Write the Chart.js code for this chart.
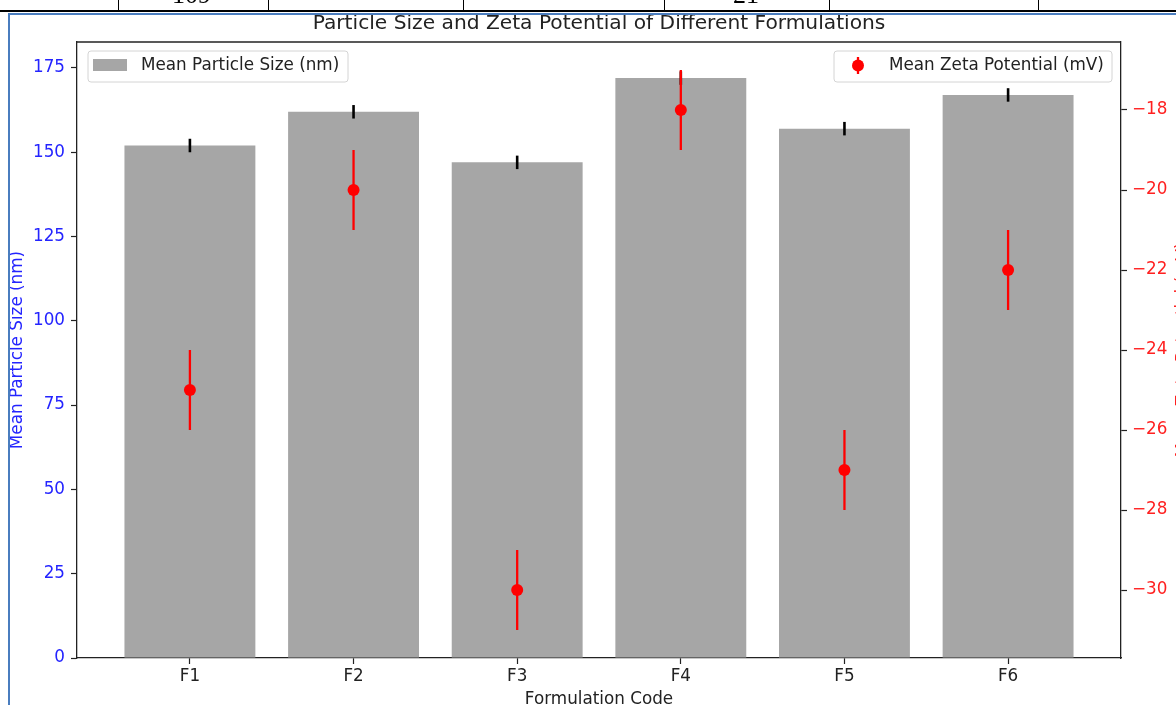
<!DOCTYPE html>
<html>
<head>
<meta charset="utf-8">
<script src="https://cdn.jsdelivr.net/npm/chart.js@4.4.0/dist/chart.umd.min.js"></script>
<style>
  body { margin: 0; background: #fff; width: 1176px; height: 705px; overflow: hidden; position: relative; }
  #chart { position: absolute; left: 0; top: 0; }
  .line { position: absolute; background: #000; z-index: 2; }
  .blue { position: absolute; background: #4a7dbf; z-index: 2; }
  .cut { position: absolute; z-index: 2; font-family: "Liberation Serif", serif; font-size: 26px; line-height: 26px; top: -18px; color: #000; }
</style>
</head>
<body>
<!-- bits of the document table above the figure -->
<div class="line" style="left:0;top:10px;width:1176px;height:2px"></div>
<div class="line" style="left:118px;top:0;width:1px;height:10px"></div>
<div class="line" style="left:268px;top:0;width:1px;height:10px"></div>
<div class="line" style="left:463px;top:0;width:1px;height:10px"></div>
<div class="line" style="left:664px;top:0;width:1px;height:10px"></div>
<div class="line" style="left:829px;top:0;width:1px;height:10px"></div>
<div class="line" style="left:1038px;top:0;width:1px;height:10px"></div>
<div class="cut" style="left:172px">109</div>
<div class="cut" style="left:733px">21</div>
<div class="blue" style="left:8px;top:13px;width:1168px;height:2px"></div>
<div class="blue" style="left:8px;top:13px;width:2px;height:692px"></div>

<canvas id="chart" width="1176" height="705"></canvas>

<script>
var formulations = ['F1', 'F2', 'F3', 'F4', 'F5', 'F6'];
var particleSize = [152, 162, 147, 172, 157, 167];
var particleErr = [2, 2, 2, 2, 2, 2];
var zetaPotential = [-25, -20, -30, -18, -27, -22];
var zetaErr = [1, 1, 1, 1, 1, 1];
var sizeTicks = [0, 25, 50, 75, 100, 125, 150, 175];
var zetaTicks = [-30, -28, -26, -24, -22, -20, -18];

var FONT = '"DejaVu Sans", sans-serif';
var BLUE = '#2424ff';
var RED = '#ff2020';
var DARK = '#222';
var LABEL = '16.8px ' + FONT;

function drawErr(chart, values, errs, axisId, color, width) {
    var ctx = chart.ctx;
    var xs = chart.scales.x, ys = chart.scales[axisId];
    ctx.save();
    ctx.strokeStyle = color;
    ctx.lineWidth = width;
    for (var i = 0; i < values.length; i++) {
        var px = xs.getPixelForValue(i);
        ctx.beginPath();
        ctx.moveTo(px, ys.getPixelForValue(values[i] - errs[i]));
        ctx.lineTo(px, ys.getPixelForValue(values[i] + errs[i]));
        ctx.stroke();
    }
    ctx.restore();
}

function legendBox(ctx, x, y, w, h) {
    ctx.beginPath();
    ctx.roundRect(x, y, w, h, 3);
    ctx.fillStyle = 'rgba(255,255,255,0.8)';
    ctx.fill();
    ctx.strokeStyle = '#d4d4d4';
    ctx.lineWidth = 1;
    ctx.stroke();
}

var extras = {
    id: 'extras',
    beforeDatasetDraw: function (chart, args) {
        if (args.index === 0) drawErr(chart, zetaPotential, zetaErr, 'y2', 'red', 2.3);
    },
    afterDatasetDraw: function (chart, args) {
        if (args.index === 1) drawErr(chart, particleSize, particleErr, 'y', '#000', 2.6);
    },
    afterDraw: function (chart) {
        var ctx = chart.ctx, a = chart.chartArea;
        ctx.save();
        // top spine
        ctx.strokeStyle = DARK;
        ctx.lineWidth = 1.3;
        ctx.beginPath();
        ctx.moveTo(a.left, a.top);
        ctx.lineTo(a.right, a.top);
        ctx.stroke();

        // title
        ctx.fillStyle = DARK;
        ctx.font = '20.2px ' + FONT;
        ctx.textAlign = 'center';
        ctx.textBaseline = 'middle';
        ctx.fillText('Particle Size and Zeta Potential of Different Formulations', (a.left + a.right) / 2, 24);

        // x title
        ctx.font = LABEL;
        ctx.fillText('Formulation Code', (a.left + a.right) / 2, 700);

        // y titles
        ctx.save();
        ctx.translate(18, (a.top + a.bottom) / 2);
        ctx.rotate(-Math.PI / 2);
        ctx.fillStyle = BLUE;
        ctx.fillText('Mean Particle Size (nm)', 0, 0);
        ctx.restore();

        ctx.save();
        ctx.translate(1188, (a.top + a.bottom) / 2);
        ctx.rotate(-Math.PI / 2);
        ctx.fillStyle = RED;
        ctx.textBaseline = 'alphabetic';
        ctx.fillText('Mean Zeta Potential (mV)', 0, 0);
        ctx.restore();

        // legends
        legendBox(ctx, 88, 51, 260, 31);
        ctx.fillStyle = '#a6a6a6';
        ctx.fillRect(93, 59, 34, 12);
        ctx.fillStyle = DARK;
        ctx.textAlign = 'left';
        ctx.fillText('Mean Particle Size (nm)', 141, 66);

        legendBox(ctx, 834, 51, 278, 31);
        ctx.strokeStyle = 'red';
        ctx.lineWidth = 2.3;
        ctx.beginPath();
        ctx.moveTo(858, 57);
        ctx.lineTo(858, 74);
        ctx.stroke();
        ctx.fillStyle = 'red';
        ctx.beginPath();
        ctx.arc(858, 65.5, 6, 0, Math.PI * 2);
        ctx.fill();
        ctx.fillStyle = DARK;
        ctx.fillText('Mean Zeta Potential (mV)', 889, 66);
        ctx.restore();
    }
};

var ctx = document.getElementById('chart');
var myChart = new Chart(ctx, {
    type: 'bar',
    data: {
        datasets: [{
            type: 'line',
            label: 'Mean Zeta Potential (mV)',
            data: zetaPotential.map(function (v, i) { return { x: i, y: v }; }),
            yAxisID: 'y2',
            showLine: false,
            pointRadius: 6,
            pointBackgroundColor: 'red',
            pointBorderWidth: 0,
            order: 0
        }, {
            type: 'bar',
            label: 'Mean Particle Size (nm)',
            data: particleSize.map(function (v, i) { return { x: i, y: v }; }),
            yAxisID: 'y',
            backgroundColor: '#a6a6a6',
            barPercentage: 0.8,
            categoryPercentage: 1.0,
            order: 1
        }]
    },
    options: {
        responsive: false,
        animation: false,
        layout: { padding: { left: 0, right: 0, top: 42, bottom: 0 } },
        plugins: { legend: { display: false }, title: { display: false }, tooltip: { enabled: false } },
        scales: {
            x: {
                type: 'linear',
                min: -0.69,
                max: 5.69,
                offset: false,
                afterBuildTicks: function (s) { s.ticks = formulations.map(function (f, i) { return { value: i }; }); },
                afterFit: function (s) { s.height = 47; },
                ticks: {
                    callback: function (v) { return formulations[v]; },
                    color: DARK, font: { family: FONT, size: 16.8 }, padding: 3, autoSkip: false, maxRotation: 0
                },
                grid: { drawOnChartArea: false, offset: false, tickLength: 6, color: DARK, tickWidth: 1.2 },
                border: { color: DARK, width: 1.3 }
            },
            y: {
                position: 'left',
                min: 0,
                max: 182.7,
                afterBuildTicks: function (s) { s.ticks = sizeTicks.map(function (v) { return { value: v }; }); },
                afterFit: function (s) { s.width = 77; },
                ticks: { color: BLUE, font: { family: FONT, size: 16.8 }, padding: 6 },
                grid: { drawOnChartArea: false, tickLength: 6, color: DARK, tickWidth: 1.2 },
                border: { color: DARK, width: 1.3 }
            },
            y2: {
                position: 'right',
                min: -31.7,
                max: -16.3,
                afterBuildTicks: function (s) { s.ticks = zetaTicks.map(function (v) { return { value: v }; }); },
                afterFit: function (s) { s.width = 55; },
                ticks: {
                    callback: function (v) { return '\u2212' + Math.abs(v); },
                    color: RED, font: { family: FONT, size: 16.8 }, padding: 5
                },
                grid: { drawOnChartArea: false, tickLength: 6, color: DARK, tickWidth: 1.2 },
                border: { color: DARK, width: 1.3 }
            }
        }
    },
    plugins: [extras]
});
</script>
</body>
</html>
